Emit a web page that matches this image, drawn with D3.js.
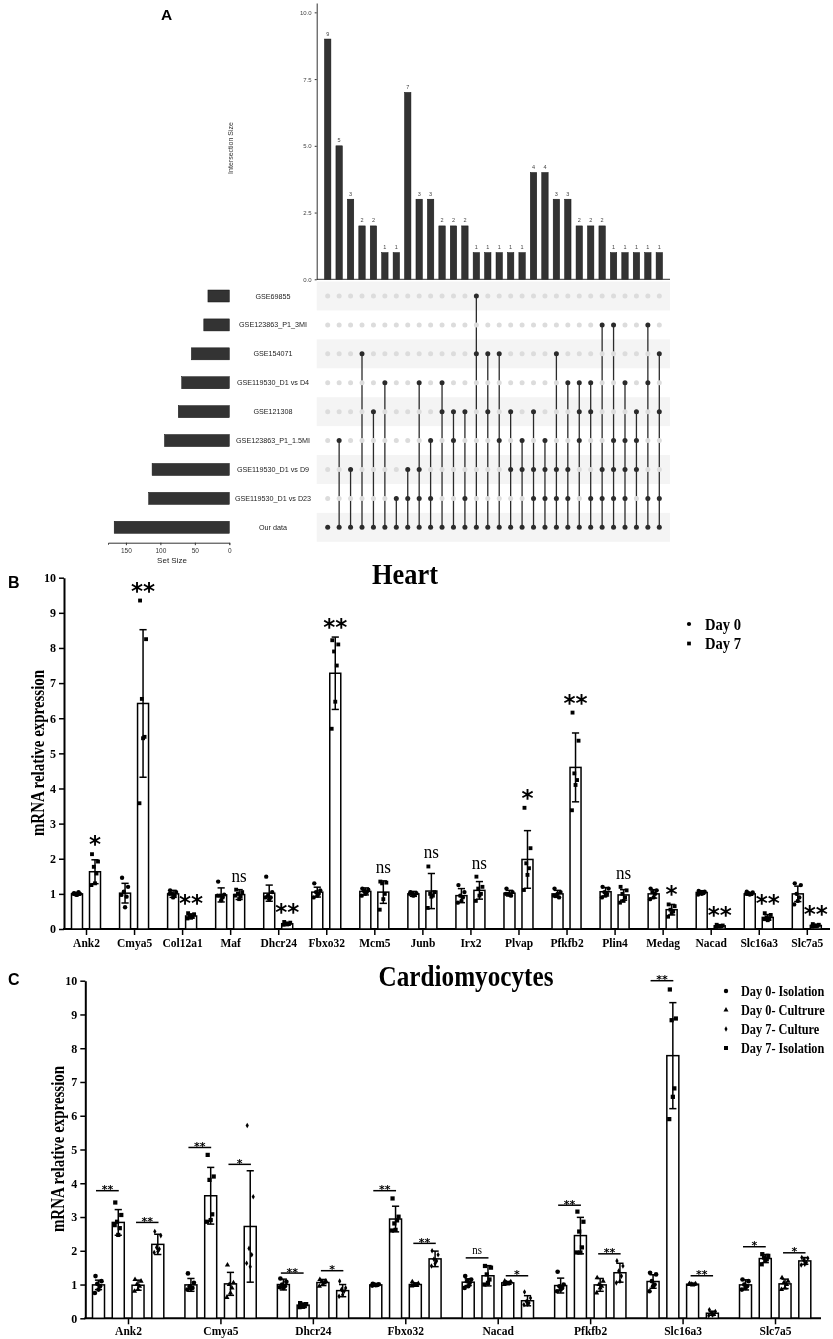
<!DOCTYPE html>
<html><head><meta charset="utf-8">
<script src="https://cdn.jsdelivr.net/npm/d3@7"></script>
<style>body{margin:0;background:#fff}svg{display:block;will-change:transform;-webkit-font-smoothing:antialiased}</style>
</head><body><svg id="c" width="833" height="1339"></svg>
<script>
// ---------- Panel A data (UpSet) ----------
const setNames = ["GSE69855","GSE123863_P1_3MI","GSE154071","GSE119530_D1 vs D4","GSE121308","GSE123863_P1_1.5MI","GSE119530_D1 vs D9","GSE119530_D1 vs D23","Our data"];
const setSizes = [31,37,55,69,74,94,112,117,167];
const intersectionSizes = [9,5,3,2,2,1,1,7,3,3,2,2,2,1,1,1,1,1,4,4,3,3,2,2,2,1,1,1,1,1];
const intersectionSets = [[8],[5,8],[6,8],[2,8],[4,8],[3,8],[7,8],[6,7,8],[3,6,7,8],[5,7,8],[3,4,8],[4,5,8],[4,7,8],[0,2,8],[2,4,8],[2,5,8],[4,6,8],[5,6,8],[4,6,7,8],[5,6,7,8],[2,6,7,8],[3,6,7,8],[3,4,5,8],[3,4,7,8],[1,6,7,8],[1,5,6,7,8],[3,5,6,7,8],[4,5,6,8],[1,3,7,8],[2,4,7,8]];
const intersectionTicks = [0,2.5,5,7.5,10];
const setSizeTicks = [0,50,100,150];

// ---------- Panel B data (Heart) ----------
const heartGenes = ["Ank2","Cmya5","Col12a1","Maf","Dhcr24","Fbxo32","Mcm5","Junb","Irx2","Plvap","Pfkfb2","Plin4","Medag","Nacad","Slc16a3","Slc7a5"];
const heartDay0Mean = [1.0,1.02,1.0,0.97,1.02,1.05,1.07,1.0,0.95,1.02,1.0,1.06,1.0,1.04,1.0,1.0];
const heartDay0SD   = [0.04,0.28,0.1,0.2,0.23,0.14,0.1,0.07,0.2,0.08,0.1,0.12,0.12,0.05,0.04,0.22];
const heartDay7Mean = [1.63,6.42,0.37,0.98,0.15,7.28,1.05,1.08,1.1,1.98,4.6,0.97,0.55,0.09,0.33,0.1];
const heartDay7SD   = [0.34,2.1,0.06,0.14,0.03,1.03,0.32,0.5,0.25,0.82,0.98,0.15,0.15,0.03,0.08,0.03];
const heartDay0Points = [
 [1.02,1.0,0.98,1.05,0.97,1.0],[1.46,1.2,1.06,0.92,0.62,0.97],[1.1,1.05,1.0,0.95,0.9,1.0],[1.35,0.98,0.95,0.9,0.82,0.95],
 [1.49,1.05,0.95,0.9,0.85,0.9],[1.3,1.1,1.05,1.0,0.95,0.9],[1.15,1.12,1.08,1.05,1.0,0.95],[1.05,1.02,1.0,0.98,0.95,1.0],
 [1.25,1.05,0.95,0.9,0.8,0.75],[1.15,1.05,1.0,0.95,0.98,1.0],[1.15,1.05,0.95,0.9,1.0,0.95],[1.2,1.15,1.05,1.0,0.95,0.9],
 [1.15,1.1,1.05,1.0,0.9,0.85],[1.08,1.06,1.04,1.02,1.0,0.98],[1.06,1.04,1.02,1.0,0.98,1.0],[1.3,1.25,1.0,0.9,0.8,0.7]];
const heartDay7Points = [
 [2.13,1.92,1.77,1.58,1.3,1.25],[9.35,8.25,6.55,5.47,5.43,3.58],[0.45,0.42,0.38,0.35,0.32,0.3],[1.12,1.05,1.0,0.92,0.85,0.95],
 [0.2,0.18,0.16,0.14,0.13,0.12],[8.22,8.1,7.9,7.5,6.47,5.7],[1.35,1.32,1.3,1.0,0.85,0.55],[1.78,1.05,1.0,0.95,0.92,0.6],
 [1.49,1.2,1.15,1.0,0.95,0.8],[3.45,2.3,1.87,1.73,1.54,1.11],[6.16,5.36,4.43,4.24,4.1,3.38],[1.2,1.1,1.0,0.9,0.8,0.75],
 [0.7,0.65,0.55,0.5,0.45,0.35],[0.12,0.1,0.09,0.08,0.07,0.06],[0.45,0.4,0.33,0.3,0.25,0.28],[0.14,0.12,0.1,0.09,0.08,0.07]];
const heartSig = ["*","**","**","ns","**","**","ns","ns","ns","*","**","ns","*","**","**","**"];
const heartGroups = ["Day 0","Day 7"];
const yTicks = [0,1,2,3,4,5,6,7,8,9,10];

// ---------- Panel C data (Cardiomyocytes) ----------
const cmGenes = ["Ank2","Cmya5","Dhcr24","Fbxo32","Nacad","Pfkfb2","Slc16a3","Slc7a5"];
const cmGroups = ["Day 0- Isolation","Day 7- Isolation","Day 0- Cultrure","Day 7- Culture"]; // bar order
const cmLegend = ["Day 0- Isolation","Day 0- Cultrure","Day 7- Culture","Day 7- Isolation"];
const cmIso0Mean = [0.99,0.99,1.0,0.99,1.07,0.97,1.09,0.99];
const cmIso0SD   = [0.14,0.19,0.16,0.02,0.1,0.22,0.2,0.15];
const cmIso7Mean = [2.84,3.63,0.39,2.94,1.26,2.45,7.78,1.77];
const cmIso7SD   = [0.38,0.84,0.06,0.38,0.3,0.54,1.57,0.12];
const cmCul0Mean = [0.98,1.02,1.06,1.0,1.05,0.99,1.01,1.02];
const cmCul0SD   = [0.15,0.34,0.09,0.05,0.04,0.19,0.02,0.14];
const cmCul7Mean = [2.19,2.72,0.82,1.76,0.52,1.35,0.15,1.7];
const cmCul7SD   = [0.3,1.65,0.18,0.23,0.15,0.28,0.06,0.1];
const cmIso0Points = [[1.25,1.1,1.02,0.95,0.85,0.75],[1.33,1.05,0.95,0.9,0.88,0.85],[1.18,1.08,1.0,0.95,0.9,0.92],[1.02,1.01,1.0,0.99,0.98,0.97],
 [1.25,1.15,1.1,1.05,0.95,0.9],[1.38,1.0,0.95,0.9,0.85,0.8],[1.35,1.3,1.1,1.0,0.95,0.8],[1.15,1.1,1.0,0.95,0.9,0.85]];
const cmIso7Points = [[3.43,3.06,2.86,2.67,2.47,2.76],[4.84,4.2,4.1,3.08,2.91,2.86],[0.45,0.42,0.4,0.36,0.34,0.33],[3.55,3.01,2.81,2.9,2.62,2.6],
 [1.55,1.5,1.3,1.15,1.05,1.0],[3.16,2.86,2.57,2.1,1.95,1.95],[9.74,8.88,8.83,6.81,6.56,5.9],[1.9,1.85,1.8,1.75,1.7,1.6]];
const cmCul0Points = [[1.15,1.1,1.0,0.95,0.85,0.8],[1.58,1.05,1.0,0.9,0.75,0.62],[1.15,1.1,1.08,1.05,1.0,0.95],[1.08,1.03,1.0,0.98,0.97,0.96],
 [1.1,1.08,1.05,1.04,1.02,1.0],[1.2,1.1,1.0,0.95,0.9,0.75],[1.03,1.02,1.01,1.0,0.99,1.0],[1.2,1.1,1.05,1.0,0.9,0.85]];
const cmCul7Points = [[2.57,2.45,2.1,2.05,1.98,1.95],[5.71,3.6,2.07,1.88,1.53,1.63],[1.1,0.9,0.85,0.8,0.7,0.65],[2.0,1.88,1.75,1.7,1.62,1.55],
 [0.78,0.6,0.5,0.45,0.42,0.4],[1.7,1.55,1.4,1.25,1.1,1.05],[0.25,0.2,0.15,0.12,0.1,0.08],[1.8,1.78,1.72,1.65,1.6,1.58]];
const cmSigIso = ["**","**","**","**","ns","**","**","*"];
const cmSigIsoLevel = [3.78,5.06,1.34,3.78,1.79,3.35,10.0,2.12];
const cmSigCul = ["**","*","*","**","*","**","**","*"];
const cmSigCulLevel = [2.84,4.56,1.41,2.22,1.26,1.91,1.26,1.94];

// ---------- drawing ----------
const svg = d3.select("#c");
const serif = "'Liberation Serif','Times New Roman',serif";
const sans = "'Liberation Sans',Arial,sans-serif";
const starFont = "'DejaVu Sans',sans-serif";
const jitter = [-3,3,-1.2,1.5,0,-3.6];

function ctext(g,x,y,str,size,sx,anchor,weight){
  return g.append("text").attr("transform",`translate(${x},${y}) scale(${sx},1)`)
   .attr("text-anchor",anchor||"start").attr("font-family",serif).attr("font-weight",weight||"bold")
   .attr("font-size",size).attr("fill","#000").text(str);
}

// ===== Panel A =====
const A = svg.append("g");
A.append("text").attr("x",161).attr("y",19.5).attr("font-family",sans).attr("font-weight","bold").attr("font-size",15.5).text("A");
const xI = d3.scalePoint().domain(d3.range(intersectionSizes.length)).range([327.7,659.3]);
const yI = d3.scaleLinear().domain([0,10.35]).range([279.3,3]);
const rowY = d3.scalePoint().domain(d3.range(setNames.length)).range([296,527.3]);
const xS = d3.scaleLinear().domain([0,176]).range([229.3,108]);

A.selectAll("rect.stripe").data(d3.range(setNames.length).filter(r=>r%2===0)).join("rect")
 .attr("x",316.7).attr("y",r=>rowY(r)-14.45).attr("width",353.3).attr("height",28.9).attr("fill","#f4f4f4");
A.selectAll("rect.ib").data(intersectionSizes).join("rect")
 .attr("x",(d,i)=>xI(i)-3.2).attr("width",6.4).attr("y",d=>yI(d)).attr("height",d=>yI(0)-yI(d))
 .attr("fill","#333").attr("stroke","#111").attr("stroke-width",0.5);
A.selectAll("text.il").data(intersectionSizes).join("text")
 .attr("x",(d,i)=>xI(i)).attr("y",d=>yI(d)-3.5).attr("text-anchor","middle").attr("font-family",sans).attr("font-size",5.5).attr("fill","#444").text(d=>d);
const ayI = A.append("g").attr("transform","translate(316.7,0)").call(d3.axisLeft(yI).tickValues(intersectionTicks).tickFormat(d3.format(".1f")).tickSize(2).tickSizeOuter(0));
ayI.selectAll("text").attr("font-family",sans).attr("font-size",6).attr("fill","#444");
ayI.selectAll("path,line").attr("stroke","#333");
A.append("line").attr("x1",316.7).attr("x2",670).attr("y1",yI(0)).attr("y2",yI(0)).attr("stroke","#333").attr("stroke-width",1);
A.append("text").attr("transform","translate(233,148) rotate(-90)").attr("text-anchor","middle").attr("font-family",sans).attr("font-size",7).attr("fill","#333").text("Intersection Size");
intersectionSets.forEach((sets,i)=>{
  const lo=d3.min(sets), hi=d3.max(sets);
  if(hi>lo) A.append("line").attr("x1",xI(i)).attr("x2",xI(i)).attr("y1",rowY(lo)).attr("y2",rowY(hi)).attr("stroke","#2b2b2b").attr("stroke-width",1.3);
  A.selectAll(null).data(d3.range(setNames.length)).join("circle")
   .attr("cx",xI(i)).attr("cy",r=>rowY(r)).attr("r",2.5)
   .attr("fill",r=>sets.includes(r)?"#2b2b2b":"#dcdcdc");
});
A.selectAll("rect.sb").data(setSizes).join("rect")
 .attr("x",d=>xS(d)).attr("width",d=>xS(0)-xS(d)).attr("y",(d,i)=>rowY(i)-6).attr("height",12)
 .attr("fill","#333").attr("stroke","#111").attr("stroke-width",0.5);
A.selectAll("text.sn").data(setNames).join("text")
 .attr("x",273).attr("y",(d,i)=>rowY(i)+2.5).attr("text-anchor","middle").attr("font-family",sans).attr("font-size",7.2).attr("fill","#222").text(d=>d);
const axS = A.append("g").attr("transform","translate(0,542.7)").call(d3.axisBottom(xS).tickValues(setSizeTicks).tickSize(2.5).tickSizeOuter(2));
axS.selectAll("text").attr("font-family",sans).attr("font-size",6.5).attr("fill","#333");
axS.selectAll("path,line").attr("stroke","#333");
A.append("text").attr("x",172).attr("y",563).attr("text-anchor","middle").attr("font-family",sans).attr("font-size",8).attr("fill","#222").text("Set Size");

function symbolPath(type,size){return d3.symbol().type(type).size(size)();}
function styleYAxis(g,fs){
  g.selectAll("text").attr("font-family",serif).attr("font-weight","bold").attr("font-size",fs).attr("fill","#000");
  g.selectAll("line").attr("stroke","#000").attr("stroke-width",1.5);
  g.select(".domain").attr("stroke","#000").attr("stroke-width",2);
}
function drawBar(g,cx,yS,mean,sd,pts,sym,symSize,w){
  g.append("rect").attr("x",cx-w/2).attr("width",w).attr("y",yS(mean)).attr("height",yS(0)-yS(mean))
   .attr("fill","#fff").attr("stroke","#000").attr("stroke-width",1.5);
  const e=g.append("g").attr("stroke","#000").attr("stroke-width",1.5);
  e.append("line").attr("x1",cx).attr("x2",cx).attr("y1",yS(Math.max(0,mean-sd))).attr("y2",yS(mean+sd));
  e.append("line").attr("x1",cx-3.6).attr("x2",cx+3.6).attr("y1",yS(mean+sd)).attr("y2",yS(mean+sd));
  e.append("line").attr("x1",cx-3.6).attr("x2",cx+3.6).attr("y1",yS(Math.max(0,mean-sd))).attr("y2",yS(Math.max(0,mean-sd)));
  g.selectAll(null).data(pts).join("path").attr("d",symbolPath(sym,symSize))
   .attr("transform",(d,i)=>`translate(${cx+jitter[i%jitter.length]},${yS(d)})`).attr("fill","#000");
}

// ===== Panel B =====
const B = svg.append("g");
B.append("text").attr("x",8).attr("y",588).attr("font-family",sans).attr("font-weight","bold").attr("font-size",16).text("B");
const yB = d3.scaleLinear().domain([0,10]).range([929,577.7]);
const xB = d3.scalePoint().domain(heartGenes).range([86,806.8]);
const offB = d3.scalePoint().domain(heartGroups).range([-9,9]);
const ayB = B.append("g").attr("transform","translate(64,0)").call(d3.axisLeft(yB).tickValues(yTicks).tickSize(5).tickSizeOuter(0));
styleYAxis(ayB,12);
B.append("line").attr("x1",63).attr("x2",830).attr("y1",929).attr("y2",929).attr("stroke","#000").attr("stroke-width",2);
const axB = B.append("g").attr("transform","translate(0,929)").call(d3.axisBottom(xB).tickSize(6).tickPadding(4));
axB.select(".domain").remove();
axB.selectAll("line").attr("stroke","#000").attr("stroke-width",1.5);
axB.selectAll("text").attr("font-family",serif).attr("font-weight","bold").attr("font-size",11.5).attr("fill","#000");
B.append("text").attr("transform","translate(40,753) rotate(-90) scale(0.83,1)").attr("text-anchor","middle").attr("dominant-baseline","middle")
 .attr("font-family",serif).attr("font-weight","bold").attr("font-size",18).text("mRNA relative expression");
ctext(B,405,584,"Heart",30,0.88,"middle");
heartGenes.forEach((gname,i)=>{
  const c=xB(gname);
  drawBar(B,c+offB("Day 0"),yB,heartDay0Mean[i],heartDay0SD[i],heartDay0Points[i],d3.symbolCircle,15,11);
  drawBar(B,c+offB("Day 7"),yB,heartDay7Mean[i],heartDay7SD[i],heartDay7Points[i],d3.symbolSquare,15,11);
  const top = yB(Math.max(d3.max(heartDay7Points[i]),heartDay7Mean[i]+heartDay7SD[i]));
  const s = heartSig[i];
  if(s==="ns") ctext(B,c+offB("Day 7"),top-8,s,19,0.9,"middle","normal");
  else B.append("text").attr("x",c+offB("Day 7")).attr("y",top-2).attr("text-anchor","middle").attr("font-family",starFont).attr("font-weight","bold").attr("font-size",23).attr("fill","#000").text(s);
});
[["Day 0",d3.symbolCircle],["Day 7",d3.symbolSquare]].forEach(([lab,sym],i)=>{
  const y=624+i*19.5;
  B.append("path").attr("d",symbolPath(sym,14)).attr("transform",`translate(689,${y})`).attr("fill","#000");
  ctext(B,705,y+5.5,lab,17,0.86);
});

// ===== Panel C =====
const C = svg.append("g");
C.append("text").attr("x",8).attr("y",985).attr("font-family",sans).attr("font-weight","bold").attr("font-size",16).text("C");
const yC = d3.scaleLinear().domain([0,10]).range([1318.3,980.7]);
const xC = d3.scalePoint().domain(cmGenes).range([128,775]);
const offC = d3.scalePoint().domain(cmGroups).range([-29.5,29.8]);
const ayC = C.append("g").attr("transform","translate(85.3,0)").call(d3.axisLeft(yC).tickValues(yTicks).tickSize(5).tickSizeOuter(0));
styleYAxis(ayC,12);
C.append("line").attr("x1",84.3).attr("x2",821).attr("y1",1318.3).attr("y2",1318.3).attr("stroke","#000").attr("stroke-width",2);
const axC = C.append("g").attr("transform","translate(0,1318.3)").call(d3.axisBottom(xC).tickSize(6).tickPadding(3));
axC.select(".domain").remove();
axC.selectAll("line").attr("stroke","#000").attr("stroke-width",1.5);
axC.selectAll("text").attr("font-family",serif).attr("font-weight","bold").attr("font-size",11.5).attr("fill","#000");
C.append("text").attr("transform","translate(60,1149) rotate(-90) scale(0.83,1)").attr("text-anchor","middle").attr("dominant-baseline","middle")
 .attr("font-family",serif).attr("font-weight","bold").attr("font-size",18).text("mRNA relative expression");
ctext(C,466,986,"Cardiomyocytes",30,0.84,"middle");
const cmSyms = {"Day 0- Isolation":[d3.symbolCircle,17],"Day 7- Isolation":[d3.symbolSquare,18],"Day 0- Cultrure":[d3.symbolTriangle,12],"Day 7- Culture":[d3.symbolDiamond,9]};
const cmMeans=[cmIso0Mean,cmIso7Mean,cmCul0Mean,cmCul7Mean], cmSDs=[cmIso0SD,cmIso7SD,cmCul0SD,cmCul7SD], cmPts=[cmIso0Points,cmIso7Points,cmCul0Points,cmCul7Points];
function sigBracket(x1,x2,level,label){
  const y=yC(level);
  C.append("line").attr("x1",x1).attr("x2",x2).attr("y1",y).attr("y2",y).attr("stroke","#000").attr("stroke-width",1.5);
  if(label==="ns") ctext(C,(x1+x2)/2,y-3.5,label,12,0.9,"middle","normal");
  else C.append("text").attr("x",(x1+x2)/2).attr("y",y+2.5).attr("text-anchor","middle").attr("font-family",starFont).attr("font-weight","bold").attr("font-size",11).attr("fill","#000").text(label);
}
cmGenes.forEach((gname,i)=>{
  const c=xC(gname);
  cmGroups.forEach((grp,k)=>{
    const [sym,sz]=cmSyms[grp];
    drawBar(C,c+offC(grp),yC,cmMeans[k][i],cmSDs[k][i],cmPts[k][i],sym,sz,12);
  });
  sigBracket(c+offC(cmGroups[0])-2.5,c+offC(cmGroups[1])+0.5,cmSigIsoLevel[i],cmSigIso[i]);
  sigBracket(c+offC(cmGroups[2])-2,c+offC(cmGroups[3])+0.7,cmSigCulLevel[i],cmSigCul[i]);
});
cmLegend.forEach((lab,i)=>{
  const y=991+i*19;
  const [sym,sz]=cmSyms[lab];
  C.append("path").attr("d",symbolPath(sym,sz*0.9)).attr("transform",`translate(726,${y})`).attr("fill","#000");
  ctext(C,741,y+5,lab,15,0.82);
});
</script></body></html>
